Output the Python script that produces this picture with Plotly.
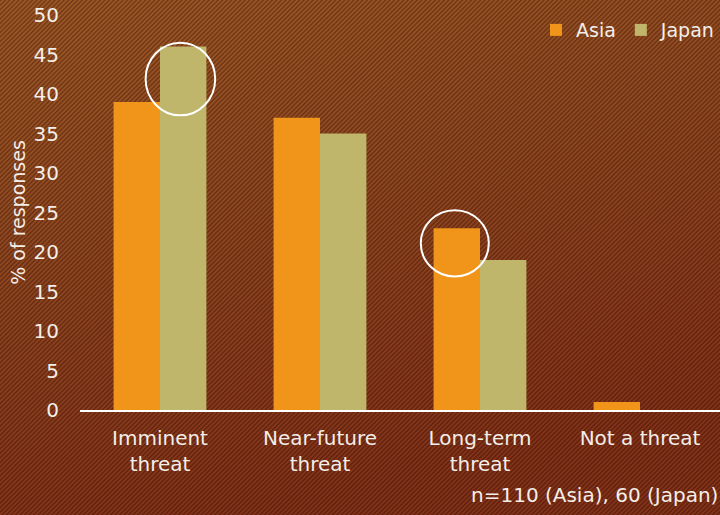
import base64

import plotly.graph_objects as go

# share of responses by threat perception

categories = ["Imminent<br>threat", "Near-future<br>threat", "Long-term<br>threat", "Not a threat"]
asia = [39, 37, 23, 1]
japan = [46, 35, 19, 0]
footnote = "n=110 (Asia), 60 (Japan)"

TEXT = "#F3EEE8"
FONT = "DejaVu Sans"
FS = 20

# textured brown backdrop (gradient + fine diagonal stripes)
svg = """<svg xmlns='http://www.w3.org/2000/svg' width='720' height='515'>
<defs>
<linearGradient id='g' x1='0' y1='0' x2='0.3' y2='1'>
<stop offset='0' stop-color='#96511F'/>
<stop offset='0.45' stop-color='#88401A'/>
<stop offset='1' stop-color='#7B2A12'/>
</linearGradient>
<pattern id='p' width='3.2' height='3.2' patternUnits='userSpaceOnUse' patternTransform='rotate(45)'>
<rect x='0' y='0' width='1.2' height='3.2' fill='#2e0e03' fill-opacity='0.38'/>
<rect x='1.9' y='0' width='0.8' height='3.2' fill='#ffd8a8' fill-opacity='0.10'/>
</pattern>
</defs>
<rect width='720' height='515' fill='url(#g)'/>
<rect width='720' height='515' fill='url(#p)'/>
</svg>"""
bg = "data:image/svg+xml;base64," + base64.b64encode(svg.encode()).decode()

fig = go.Figure()

fig.add_trace(go.Bar(x=categories, y=asia, name="Asia", marker_color="#F0941A",
                     marker_line_width=0))
fig.add_trace(go.Bar(x=categories, y=japan, name="Japan", marker_color="#BFB56B",
                     marker_line_width=0))

L, R, T, B = 80, 0, 15, 105
W, H = 720, 515
pw, ph = W - L - R, H - T - B

fig.add_layout_image(dict(
    source=bg, xref="paper", yref="paper",
    x=-L / pw, y=1 + T / ph, sizex=W / pw, sizey=H / ph,
    sizing="stretch", layer="below", xanchor="left", yanchor="top",
))

# highlight circles
fig.add_shape(type="circle", xref="x", yref="y", x0=-0.09, x1=0.345, y0=37.3, y1=46.5,
              line=dict(color="white", width=2))
fig.add_shape(type="circle", xref="x", yref="y", x0=1.63, x1=2.055, y0=16.9, y1=25.3,
              line=dict(color="white", width=2))

fig.add_annotation(text=footnote, xref="paper", yref="paper", x=1.0, y=-0.215,
                   xanchor="right", yanchor="middle", showarrow=False,
                   font=dict(size=FS, color=TEXT, family=FONT))

fig.update_layout(
    width=W, height=H,
    margin=dict(l=L, r=R, t=T, b=B),
    paper_bgcolor="#873E19",
    plot_bgcolor="rgba(0,0,0,0)",
    font=dict(family=FONT, size=FS, color=TEXT),
    barmode="group",
    bargap=0.42,
    bargroupgap=0,
    showlegend=True,
    legend=dict(orientation="h", x=1.0, xanchor="right", y=1.01, yanchor="top",
                bgcolor="rgba(0,0,0,0)", font=dict(size=19, color=TEXT),
                itemwidth=30, tracegroupgap=0),
)

fig.update_xaxes(showgrid=False, showline=True, linecolor="white", linewidth=2,
                 ticks="", tickfont=dict(size=FS, color=TEXT), ticklabelstandoff=9)
fig.update_yaxes(range=[0, 50], dtick=5, showgrid=False, zeroline=False, showline=False,
                 ticks="", tickfont=dict(size=FS, color=TEXT), ticklabelstandoff=20,
                 title=dict(text="% of responses", font=dict(size=19, color=TEXT), standoff=2))

fig.write_html("out.html", config={"displayModeBar": False},
               post_script="document.body.style.margin='0';")
